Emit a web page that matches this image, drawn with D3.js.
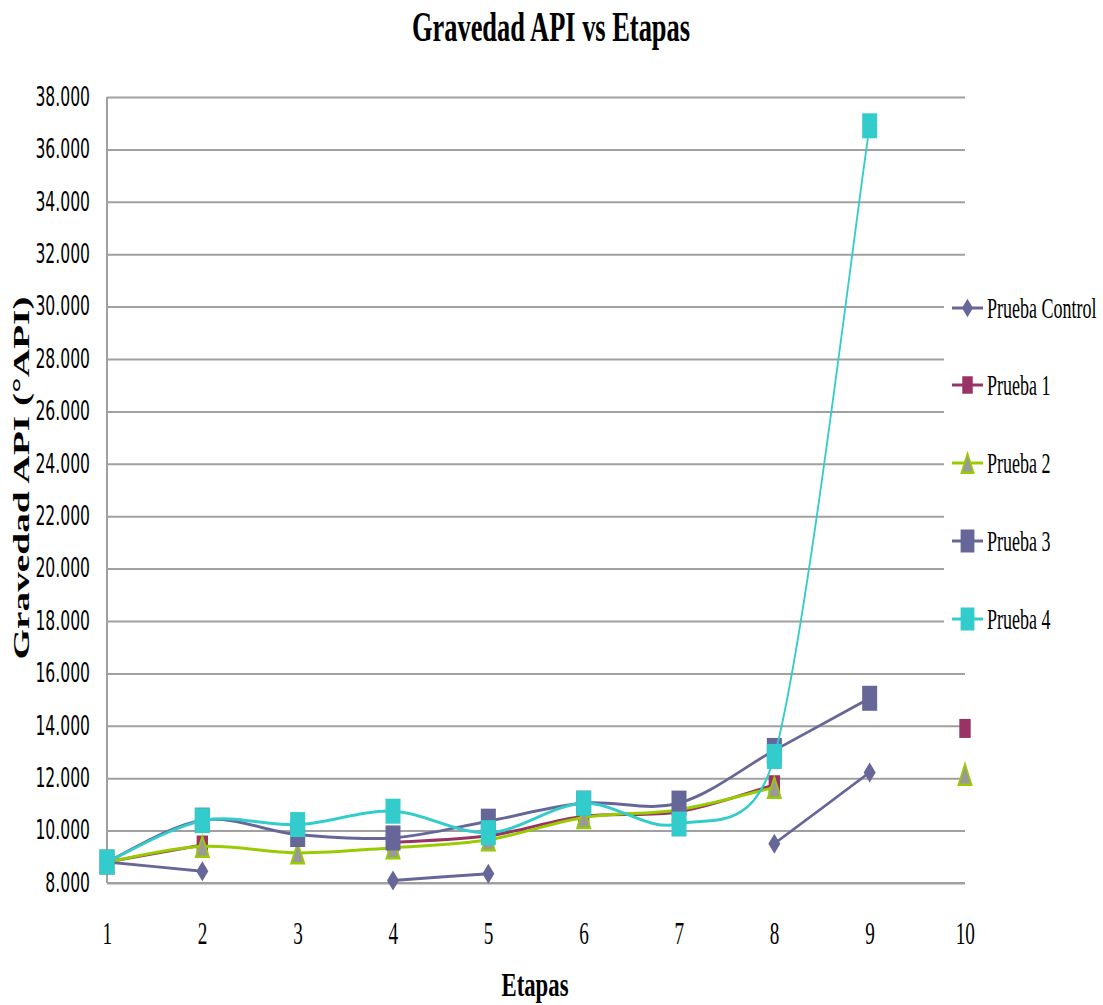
<!DOCTYPE html>
<html><head><meta charset="utf-8">
<script src="https://cdn.jsdelivr.net/npm/d3@7"></script>
<style>html,body{margin:0;padding:0;background:#fff;} svg{display:block}</style>
</head><body>
<svg id="chart" width="1103" height="1005"></svg>
<script>
// ---------- data ----------
const etapas = [1, 2, 3, 4, 5, 6, 7, 8, 9, 10];
const pruebaControl = [8.8, 8.45, null, 8.1, 8.35, null, null, 9.5, 12.22, null];
const prueba1 = [8.8, 9.45, null, 9.55, 9.8, 10.55, 10.72, 11.75, null, 13.9];
const prueba2 = [8.8, 9.4, 9.15, 9.35, 9.65, 10.5, 10.8, 11.65, null, 12.15];
const prueba3 = [8.8, 10.4, 9.85, 9.72, 10.36, 11.05, 11.05, 13.06, 15.05, null];
const prueba4 = [8.8, 10.38, 10.23, 10.74, 9.92, 11.04, 10.25, 12.83, 36.9, null];
const seriesNames = ["Prueba Control", "Prueba 1", "Prueba 2", "Prueba 3", "Prueba 4"];
const yTicks = [8, 10, 12, 14, 16, 18, 20, 22, 24, 26, 28, 30, 32, 34, 36, 38];
const xTicks = [1, 2, 3, 4, 5, 6, 7, 8, 9, 10];
const chartTitle = "Gravedad API vs Etapas";
const xTitle = "Etapas";
const yTitle = "Gravedad API (°API)";

// ---------- styles ----------
const seriesValues = [pruebaControl, prueba1, prueba2, prueba3, prueba4];
const seriesStyle = [
  {color: "#666699", marker: "diamond"},
  {color: "#993366", marker: "squareSmall"},
  {color: "#99CC00", marker: "triangle"},
  {color: "#666699", marker: "square"},
  {color: "#33CCCC", marker: "square"}
];
const SX = 0.6; // horizontal condensing of the whole picture
const L = px => px / SX;
const serif = "'Liberation Serif','Times New Roman',serif";

const svg = d3.select("#chart");
const root = svg.append("g").attr("transform", `scale(${SX},1)`);

const x = d3.scaleLinear().domain([1, 10]).range([L(107), L(965)]);
const y = d3.scaleLinear().domain([8, 38]).range([883, 97]);

// gridlines
const grid = root.append("g").attr("transform", `translate(${x(1)},0)`)
  .call(d3.axisLeft(y).tickValues(yTicks).tickSize(-(x(10) - x(1))).tickFormat(""));
grid.select(".domain").remove();
grid.selectAll("line").attr("stroke", "#a0a0a0").attr("stroke-width", 2);

// axis lines
root.append("line").attr("x1", x(1)).attr("x2", x(1)).attr("y1", y(38)).attr("y2", y(8))
  .attr("stroke", "#a0a0a0").attr("stroke-width", 2 / SX);
root.append("line").attr("x1", x(1)).attr("x2", x(10)).attr("y1", y(8)).attr("y2", y(8))
  .attr("stroke", "#a0a0a0").attr("stroke-width", 2);

// y axis labels
const yAx = root.append("g").attr("transform", `translate(${x(1)},0)`)
  .call(d3.axisLeft(y).tickValues(yTicks).tickSize(0).tickPadding(L(17)).tickFormat(d3.format(".3f")));
yAx.select(".domain").remove();
yAx.selectAll("text").attr("font-family", "'DejaVu Sans',sans-serif").attr("font-size", 26)
  .attr("fill", "#000");

// x axis labels
const xAx = root.append("g").attr("transform", `translate(0,${y(8)})`)
  .call(d3.axisBottom(x).tickValues(xTicks).tickSize(0).tickPadding(38).tickFormat(d3.format("d")));
xAx.select(".domain").remove();
xAx.selectAll("text").attr("font-family", serif).attr("font-size", 32).attr("fill", "#000");

// titles
root.append("text").attr("x", L(551)).attr("y", 41).attr("text-anchor", "middle")
  .attr("font-family", serif).attr("font-weight", "bold").attr("font-size", 42)
  .attr("textLength", L(278)).attr("lengthAdjust", "spacingAndGlyphs").text(chartTitle);
root.append("text").attr("x", L(535)).attr("y", 996).attr("text-anchor", "middle")
  .attr("font-family", serif).attr("font-weight", "bold").attr("font-size", 34)
  .attr("textLength", L(67)).attr("lengthAdjust", "spacingAndGlyphs").text(xTitle);
root.append("text").attr("transform", `translate(${L(29)},478) rotate(-90)`)
  .attr("text-anchor", "middle")
  .attr("font-family", serif).attr("font-weight", "bold").attr("font-size", 38)
  .attr("textLength", 363).attr("lengthAdjust", "spacingAndGlyphs").text(yTitle);

// markers
function marker(g, type, color, cx, cy, k) {
  k = k || 1;
  if (type === "diamond") {
    g.append("path").attr("d", `M${cx},${cy - 10 * k}L${cx + 10 * k},${cy}L${cx},${cy + 10 * k}L${cx - 10 * k},${cy}Z`)
      .attr("fill", color);
  } else if (type === "square") {
    g.append("rect").attr("x", cx - 12.5 * k).attr("y", cy - 12.5 * k)
      .attr("width", 25 * k).attr("height", 25 * k).attr("fill", color);
  } else if (type === "squareSmall") {
    g.append("rect").attr("x", cx - 9.5 * k).attr("y", cy - 9.5 * k)
      .attr("width", 19 * k).attr("height", 19 * k).attr("fill", color);
  } else if (type === "triangle") {
    g.append("path").attr("d", `M${cx},${cy - 10.5 * k}L${cx + 11 * k},${cy + 10.5 * k}L${cx - 11 * k},${cy + 10.5 * k}Z`)
      .attr("fill", "#999999").attr("stroke", color).attr("stroke-width", 2.5);
  }
}

// Excel-style smoothed line (Bezier, tension 1/6 with clamping), split at gaps
function smoothPath(pts) {
  const n = pts.length;
  if (n === 0) return "";
  let d = `M${pts[0][0]},${pts[0][1]}`;
  if (n === 1) return d;
  const dist = (a, b) => Math.hypot(a[0] - b[0], a[1] - b[1]);
  for (let i = 0; i < n - 1; i++) {
    const p0 = pts[i - 1] || pts[i], p1 = pts[i], p2 = pts[i + 1], p3 = pts[i + 2] || pts[i + 1];
    const d12 = dist(p1, p2), d02 = dist(p0, p2), d13 = dist(p1, p3);
    let f1 = 1 / 6, f2 = 1 / 6;
    if (d02 > 0 && d02 / 6 >= d12 / 2) f1 = d12 / d02 / 2;
    if (d13 > 0 && d13 / 6 >= d12 / 2) f2 = d12 / d13 / 2;
    const c1 = [p1[0] + (p2[0] - p0[0]) * f1, p1[1] + (p2[1] - p0[1]) * f1];
    const c2 = [p2[0] - (p3[0] - p1[0]) * f2, p2[1] - (p3[1] - p1[1]) * f2];
    d += `C${c1[0]},${c1[1]} ${c2[0]},${c2[1]} ${p2[0]},${p2[1]}`;
  }
  return d;
}
function seriesPath(data) {
  const runs = [];
  let cur = [];
  data.forEach(d => {
    if (d.v == null) { if (cur.length) runs.push(cur); cur = []; }
    else cur.push([x(d.e), y(d.v)]);
  });
  if (cur.length) runs.push(cur);
  return runs.filter(r => r.length > 1).map(smoothPath).join("");
}

// series
seriesValues.forEach((vals, i) => {
  const st = seriesStyle[i];
  const data = etapas.map((e, j) => ({e, v: vals[j]}));
  const g = root.append("g");
  g.append("path").attr("d", seriesPath(data)).attr("fill", "none")
    .attr("stroke", st.color).attr("stroke-width", 3).attr("stroke-linejoin", "round");
  data.filter(d => d.v != null).forEach(d => marker(g, st.marker, st.color, x(d.e), y(d.v)));
});

// legend
const legendY = [308, 385, 463, 541, 619];
const lg = root.append("g");
lg.append("rect").attr("x", L(944)).attr("y", 283).attr("width", L(1103 - 944)).attr("height", 357)
  .attr("fill", "#fff");
seriesNames.forEach((name, i) => {
  const st = seriesStyle[i];
  const cy = legendY[i];
  lg.append("line").attr("x1", L(952)).attr("x2", L(983)).attr("y1", cy).attr("y2", cy)
    .attr("stroke", st.color).attr("stroke-width", 3);
  marker(lg, st.marker, st.color, L(967.5), cy, 0.92);
  lg.append("text").attr("x", L(987)).attr("y", cy).attr("dy", "0.35em")
    .attr("font-family", serif).attr("font-size", 30).attr("fill", "#000").text(name);
});
</script>
</body></html>
